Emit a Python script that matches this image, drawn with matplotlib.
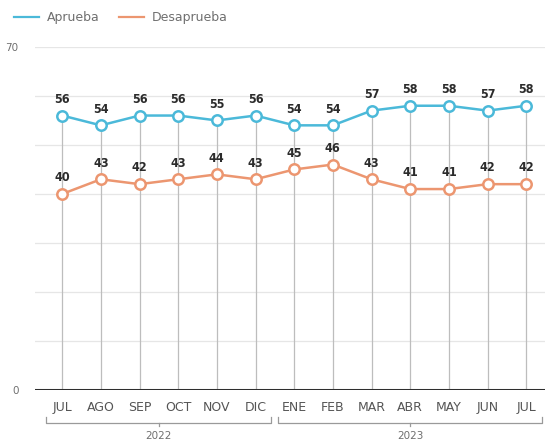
import numpy as np
import matplotlib.pyplot as plt
from matplotlib import transforms
from matplotlib.lines import Line2D


months = ["JUL", "AGO", "SEP", "OCT", "NOV", "DIC", "ENE",
          "FEB", "MAR", "ABR", "MAY", "JUN", "JUL"]
aprueba = [56, 54, 56, 56, 55, 56, 54, 54, 57, 58, 58, 57, 58]
desaprueba = [40, 43, 42, 43, 44, 43, 45, 46, 43, 41, 41, 42, 42]
years = ["2022", "2023"]
year_spans = [(0, 5), (6, 12)]

BLUE = "#4bb9d9"
ORANGE = "#ec9670"
GREY_TXT = "#6f6f6f"

plt.rcParams['font.family'] = ['DejaVu Sans']

fig = plt.figure(figsize=(5.49, 4.41), dpi=100)
ax = fig.add_axes([0.064, 0.1156, 0.929, 0.778])

x = np.arange(len(months))

# horizontal grid
for g in range(10, 71, 10):
    ax.axhline(g, color="#e6e6e6", lw=0.9, zorder=0)

# drop lines from points to the baseline
for xi, top in zip(x, aprueba):
    ax.plot([xi, xi], [0, top], color="#bdbdbd", lw=0.9, zorder=1)

ax.plot(x, aprueba, color=BLUE, lw=1.8, marker="o", ms=7.5,
        mfc="white", mec=BLUE, mew=1.8, zorder=3)
ax.plot(x, desaprueba, color=ORANGE, lw=1.8, marker="o", ms=7.5,
        mfc="white", mec=ORANGE, mew=1.8, zorder=3)

for series in (aprueba, desaprueba):
    for xi, v in zip(x, series):
        ax.annotate(str(v), (xi, v), xytext=(0, 7), textcoords="offset points",
                    ha="center", va="bottom", fontsize=9, fontweight="bold",
                    color="#2b2b2b", fontstretch="condensed")

ax.axhline(0, color="#2e2e2e", lw=2.2, zorder=4)

ax.set_xlim(-0.7, 12.49)
ax.set_ylim(0, 70)
for s in ax.spines.values():
    s.set_visible(False)
ax.set_yticks([0, 70])
ax.set_yticklabels(["0", "70"], color=GREY_TXT, fontsize=7.5)
ax.tick_params(axis="y", length=0, pad=12)
ax.set_xticks(x)
ax.set_xticklabels(months, color="#555555", fontsize=9)
ax.tick_params(axis="x", length=0, pad=8)

# year brackets under the month labels
trans = transforms.blended_transform_factory(ax.transData, ax.transAxes)
yb = -0.095
for (a, b), yr in zip(year_spans, years):
    x0, x1 = a - 0.42, b + 0.41
    ax.plot([x0, x0, x1, x1], [yb + 0.015, yb, yb, yb + 0.015],
            color="#9a9a9a", lw=0.9, transform=trans, clip_on=False)
    xm = (a + b) / 2
    ax.plot([xm, xm], [yb, yb - 0.01], color="#9a9a9a", lw=0.9,
            transform=trans, clip_on=False)
    ax.text(xm, yb - 0.038, yr, transform=trans, ha="center", va="center",
            fontsize=7.5, color=GREY_TXT)

handles = [Line2D([], [], color=BLUE, lw=1.6),
           Line2D([], [], color=ORANGE, lw=1.6)]
fig.legend(handles, ["Aprueba", "Desaprueba"], loc="upper left",
           bbox_to_anchor=(0.005, 1.0), ncol=2, frameon=False, fontsize=9,
           handlelength=2.0, handletextpad=0.6, columnspacing=1.6,
           labelcolor=GREY_TXT)

fig.savefig("out.png", dpi=100, facecolor="white")
